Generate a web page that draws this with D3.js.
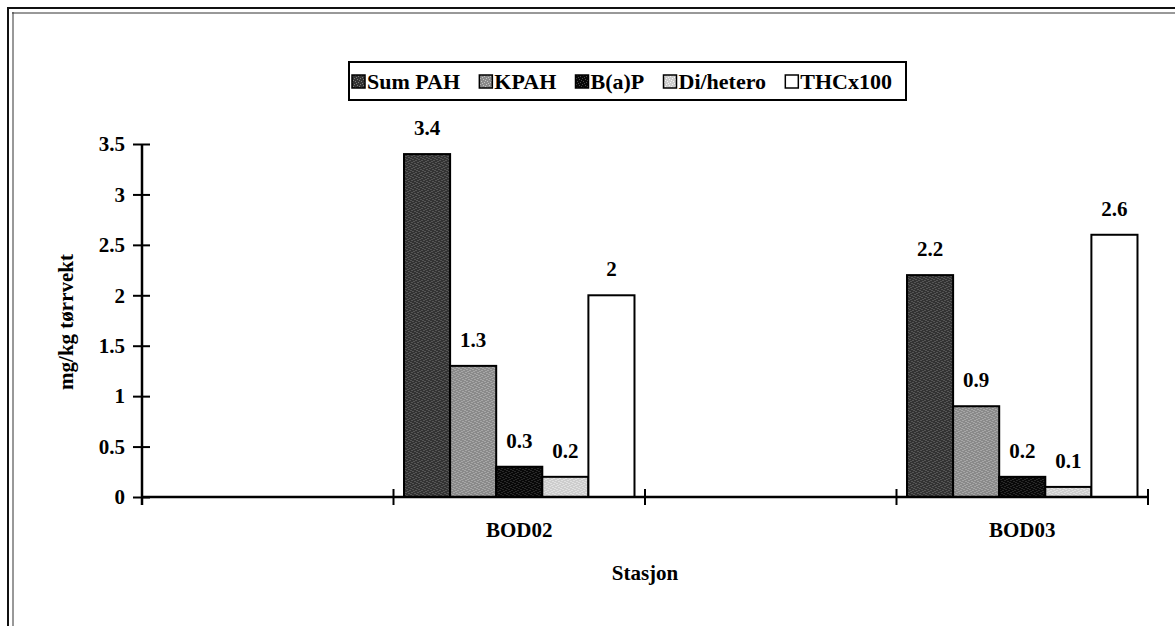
<!DOCTYPE html>
<html>
<head>
<meta charset="utf-8">
<script src="https://cdn.jsdelivr.net/npm/d3@7"></script>
<style>
  html, body { margin: 0; padding: 0; background: #fff; }
  svg { display: block; }
  text { font-family: "Liberation Serif", "Times New Roman", serif; font-weight: bold; fill: #000; }
</style>
</head>
<body>
<svg id="chart" width="1175" height="626"></svg>
<script>
// ---- data ----
const categories = ["", "BOD02", " ", "BOD03"];
const seriesNames = ["Sum PAH", "KPAH", "B(a)P", "Di/hetero", "THCx100"];
const bod02Values = [3.4, 1.3, 0.3, 0.2, 2.0];
const bod03Values = [2.2, 0.9, 0.2, 0.1, 2.6];
const yTicks = [0, 0.5, 1, 1.5, 2, 2.5, 3, 3.5];
const yTickLabels = ["0", "0.5", "1", "1.5", "2", "2.5", "3", "3.5"];
const labelTexts02 = ["3.4", "1.3", "0.3", "0.2", "2"];
const labelTexts03 = ["2.2", "0.9", "0.2", "0.1", "2.6"];

const rows = [
  { cat: "BOD02", values: bod02Values, labels: labelTexts02 },
  { cat: "BOD03", values: bod03Values, labels: labelTexts03 }
];

const baseColors = ["#333333", "#8a8a8a", "#080808", "#cdcdcd", "#ffffff"];
const dotColors  = ["#7a7a7a", "#c4c4c4", "#4a4a4a", "#f4f4f4", "#ffffff"];
const dotPos = [[0,0],[3,1],[5,2],[1,3],[4,4],[2,5]];

const svg = d3.select("#chart");
const defs = svg.append("defs");
const fills = seriesNames.map((s, i) => {
  if (i === 4) return "#ffffff";
  const id = "pat" + i;
  const p = defs.append("pattern").attr("id", id).attr("patternUnits", "userSpaceOnUse")
    .attr("width", 6).attr("height", 6);
  p.append("rect").attr("width", 6).attr("height", 6).attr("fill", baseColors[i]);
  dotPos.forEach(([dx, dy]) => {
    p.append("rect").attr("x", dx).attr("y", dy).attr("width", 1).attr("height", 1).attr("fill", dotColors[i]);
  });
  return `url(#${id})`;
});

// frame
svg.append("line").attr("x1", 7).attr("x2", 1175).attr("y1", 8).attr("y2", 8).attr("stroke", "#111").attr("stroke-width", 2);
svg.append("line").attr("x1", 12).attr("x2", 1175).attr("y1", 13).attr("y2", 13).attr("stroke", "#333").attr("stroke-width", 1);
svg.append("line").attr("x1", 8).attr("x2", 8).attr("y1", 7).attr("y2", 626).attr("stroke", "#111").attr("stroke-width", 2);
svg.append("line").attr("x1", 13).attr("x2", 13).attr("y1", 12).attr("y2", 626).attr("stroke", "#333").attr("stroke-width", 1);

const x0 = d3.scaleBand().domain(categories).range([142, 1148]).padding(0);
const x1 = d3.scaleBand().domain(seriesNames).range([0, x0.bandwidth()]).paddingInner(0).paddingOuter(0.228);
const y = d3.scaleLinear().domain([0, 3.5]).range([497, 144]);

// bars
const g = svg.append("g");
rows.forEach(r => {
  const gg = g.append("g").attr("transform", `translate(${x0(r.cat)},0)`);
  gg.selectAll("rect").data(seriesNames).join("rect")
    .attr("x", (d) => x1(d))
    .attr("y", (d, i) => y(r.values[i]))
    .attr("width", x1.bandwidth())
    .attr("height", (d, i) => y(0) - y(r.values[i]))
    .attr("fill", (d, i) => fills[i])
    .attr("stroke", "#000")
    .attr("stroke-width", 2);
  gg.selectAll("text.lbl").data(seriesNames).join("text")
    .attr("class", "lbl")
    .attr("x", (d) => x1(d) + x1.bandwidth() / 2)
    .attr("y", (d, i) => y(r.values[i]) - 19)
    .attr("text-anchor", "middle")
    .attr("font-size", 21)
    .text((d, i) => r.labels[i]);
});

// y axis
const yAxis = d3.axisLeft(y).tickValues(yTicks).tickFormat((d, i) => yTickLabels[i]).tickSize(0).tickPadding(17);
const ya = svg.append("g").attr("transform", "translate(142,0)").call(yAxis);
ya.select(".domain").remove();
ya.append("line").attr("x1", 0).attr("x2", 0).attr("y1", y(3.5)).attr("y2", y(0) + 8).attr("stroke", "#000").attr("stroke-width", 2.5);
ya.selectAll(".tick").append("line").attr("x1", -9).attr("x2", 8).attr("stroke", "#000").attr("stroke-width", 2);
ya.selectAll(".tick text").attr("font-size", 21).attr("font-family", "Liberation Serif").attr("font-weight", "bold").attr("fill", "#000");

// x axis
const xa = svg.append("g").attr("transform", `translate(0,${y(0)})`);
xa.append("line").attr("x1", 142).attr("x2", 1148).attr("stroke", "#000").attr("stroke-width", 2.5);
const boundaries = categories.map(c => x0(c)).concat([x0(categories[categories.length - 1]) + x0.bandwidth()]);
xa.selectAll("line.tk").data(boundaries).join("line").attr("class", "tk")
  .attr("x1", d => d).attr("x2", d => d).attr("y1", -8).attr("y2", 8)
  .attr("stroke", "#000").attr("stroke-width", 2);
xa.selectAll("text.cat").data(categories).join("text").attr("class", "cat")
  .attr("x", d => x0(d) + x0.bandwidth() / 2)
  .attr("y", 40)
  .attr("text-anchor", "middle")
  .attr("font-size", 21)
  .text(d => d.trim());

// axis titles
svg.append("text").attr("x", 645).attr("y", 580).attr("text-anchor", "middle").attr("font-size", 21).text("Stasjon");
svg.append("text").attr("transform", "translate(73,322) rotate(-90)").attr("text-anchor", "middle").attr("font-size", 21).text("mg/kg tørrvekt");

// legend
const lg = svg.append("g");
lg.append("rect").attr("x", 349).attr("y", 62).attr("width", 557).attr("height", 38)
  .attr("fill", "#fff").attr("stroke", "#000").attr("stroke-width", 2);
const legendFont = 22;
const swatch = 13;
const tmp = lg.append("g");
const widths = seriesNames.map(s => {
  const t = tmp.append("text").attr("font-size", legendFont).text(s);
  return t.node().getComputedTextLength();
});
tmp.remove();
const startX = 352, endX = 892;
const totalText = d3.sum(widths) + seriesNames.length * (swatch + 2);
const gap = (endX - startX - totalText) / (seriesNames.length - 1);
let lx = startX;
seriesNames.forEach((s, i) => {
  lg.append("rect").attr("x", lx).attr("y", 75).attr("width", swatch).attr("height", swatch)
    .attr("fill", fills[i]).attr("stroke", "#000").attr("stroke-width", 1.5);
  lg.append("text").attr("x", lx + swatch + 2).attr("y", 89).attr("font-size", legendFont).text(s);
  lx += swatch + 2 + widths[i] + gap;
});
</script>
</body>
</html>
